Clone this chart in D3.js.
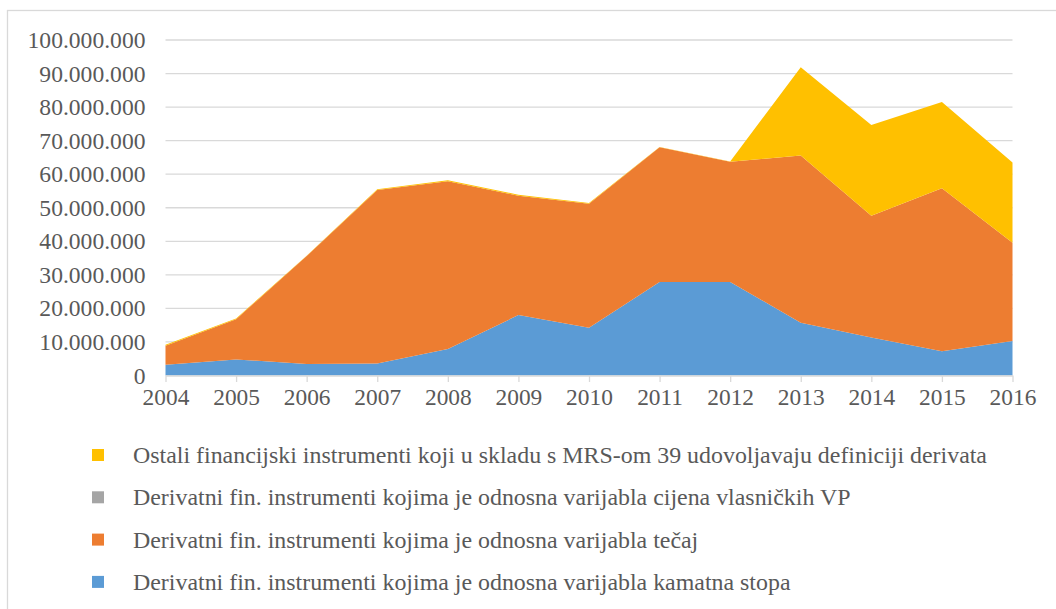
<!DOCTYPE html>
<html>
<head>
<meta charset="utf-8">
<script src="https://cdn.jsdelivr.net/npm/d3@7/dist/d3.min.js"></script>
<style>
  html, body { margin: 0; padding: 0; background: #fff; }
  svg { display: block; }
  svg text { font-family: "Liberation Serif", Tinos, "Times New Roman", Times, serif; fill: #595959; }
</style>
</head>
<body>
<svg id="chart" width="1056" height="609"></svg>
<script>
// Years on the category axis
const years = ["2004","2005","2006","2007","2008","2009","2010","2011","2012","2013","2014","2015","2016"];

// Series values (stacked, bottom to top)
const kamatnaStopa = [3200000, 4800000, 3400000, 3600000, 7900000, 18000000, 14200000, 27900000, 27900000, 15700000, 11300000, 7200000, 10300000];
const tecaj        = [5700000, 12000000, 32200000, 51700000, 50000000, 35600000, 37000000, 40100000, 35800000, 49900000, 36300000, 48600000, 29300000];
const cijenaVP     = [0, 0, 0, 0, 0, 0, 0, 0, 0, 0, 0, 0, 0];
const ostali       = [300000, 200000, 100000, 200000, 300000, 300000, 200000, 100000, 100000, 26300000, 27100000, 25700000, 23900000];

const seriesNames = [
  "Derivatni fin. instrumenti kojima je odnosna varijabla kamatna stopa",
  "Derivatni fin. instrumenti kojima je odnosna varijabla tečaj",
  "Derivatni fin. instrumenti kojima je odnosna varijabla cijena vlasničkih VP",
  "Ostali financijski instrumenti koji u skladu s MRS-om 39 udovoljavaju definiciji derivata"
];
const seriesColors = ["#5B9BD5", "#ED7D31", "#A5A5A5", "#FFC000"];

const yTicks = [0, 10000000, 20000000, 30000000, 40000000, 50000000, 60000000, 70000000, 80000000, 90000000, 100000000];

const FONT = '"Liberation Serif", Tinos, "Times New Roman", Times, serif';

// Build rows for d3.stack
const keys = ["k", "t", "c", "o"];
const rows = years.map((y, i) => ({ year: y, k: kamatnaStopa[i], t: tecaj[i], c: cijenaVP[i], o: ostali[i] }));

const svg = d3.select("#chart");

// Outer chart frame
svg.append("rect")
  .attr("x", 7.5).attr("y", 10.5)
  .attr("width", 1100).attr("height", 700)
  .attr("fill", "none").attr("stroke", "#d9d9d9").attr("stroke-width", 1.3);

const plotLeft = 165.5, plotRight = 1012.5, plotTop = 40, plotBottom = 375.5;

const x = d3.scalePoint().domain(years).range([plotLeft, plotRight]);
const y = d3.scaleLinear().domain([0, 100000000]).range([plotBottom, plotTop]);

const fmt = v => d3.format(",")(v).replace(/,/g, ".");

// Horizontal gridlines
svg.append("g")
  .selectAll("line")
  .data(yTicks.filter(d => d > 0))
  .join("line")
  .attr("x1", plotLeft).attr("x2", plotRight)
  .attr("y1", d => y(d)).attr("y2", d => y(d))
  .attr("stroke", "#d9d9d9").attr("stroke-width", 1.3);

// Stacked areas
const stacked = d3.stack().keys(keys)(rows);
const area = d3.area()
  .x(d => x(d.data.year))
  .y0(d => y(d[0]))
  .y1(d => y(d[1]));

svg.append("g")
  .selectAll("path")
  .data(stacked)
  .join("path")
  .attr("d", area)
  .attr("fill", (d, i) => seriesColors[i]);

// Y axis labels
const yAxis = d3.axisLeft(y).tickValues(yTicks).tickFormat(fmt).tickSize(0).tickPadding(20);
const yg = svg.append("g").attr("transform", `translate(${plotLeft},0)`).call(yAxis)
  .attr("font-family", FONT).attr("font-size", 23.6);
yg.select(".domain").remove();
yg.selectAll("text").style("font-family", FONT).style("font-size", "23.6px").attr("fill", "#595959");

// X axis with small outward ticks
const xAxis = d3.axisBottom(x).tickSizeInner(6.5).tickSizeOuter(0).tickPadding(6);
const xg = svg.append("g").attr("transform", `translate(0,${plotBottom})`).call(xAxis)
  .attr("font-family", FONT).attr("font-size", 23.4);
xg.select(".domain").attr("stroke", "#d9d9d9").attr("stroke-width", 1.3);
xg.selectAll(".tick line").attr("stroke", "#d9d9d9").attr("stroke-width", 1.3);
xg.selectAll("text").style("font-family", FONT).style("font-size", "23.4px").attr("fill", "#595959");

// Legend (top series listed first)
const legendOrder = [3, 2, 1, 0];
const legend = svg.append("g");
const lg = legend.selectAll("g")
  .data(legendOrder)
  .join("g")
  .attr("transform", (d, i) => `translate(92,${455 + i * 42.3})`);
lg.append("rect")
  .attr("x", 0).attr("y", -6).attr("width", 12).attr("height", 12)
  .attr("fill", d => seriesColors[d]);
lg.append("text")
  .attr("x", 41).attr("y", 8)
  .style("font-family", FONT)
  .style("font-size", "23.9px")
  .text(d => seriesNames[d]);
</script>
</body>
</html>
